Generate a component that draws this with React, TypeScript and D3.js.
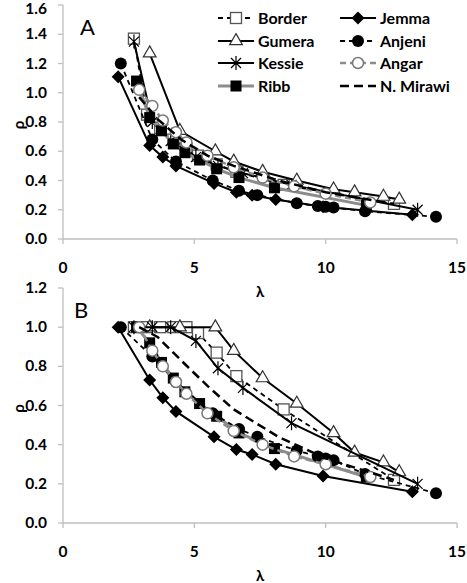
import React from 'react';
import * as d3 from 'd3';

// λ values and ρ for panel A and panel B
const lamBorder = [2.7, 3.2, 3.7, 4.2, 4.7, 5.14, 5.85, 6.6, 8.4, 12.6];
const rhoABorder = [1.37, 0.85, 0.76, 0.68, 0.62, 0.57, 0.51, 0.46, 0.37, 0.24];
const rhoBBorder = [1.0, 1.0, 1.0, 1.0, 1.0, 0.97, 0.87, 0.75, 0.58, 0.22];

const lamGumera = [3.3, 4.45, 5.8, 6.5, 7.6, 8.9, 10.3, 11.1, 12.2, 12.8];
const rhoAGumera = [1.27, 0.74, 0.6, 0.53, 0.46, 0.4, 0.34, 0.32, 0.29, 0.27];
const rhoBGumera = [1.0, 1.0, 1.0, 0.88, 0.74, 0.61, 0.46, 0.36, 0.31, 0.26];

const lamKessie = [2.7, 3.4, 4.1, 5.06, 5.9, 6.85, 8.7, 13.5];
const rhoAKessie = [1.35, 0.8, 0.67, 0.56, 0.5, 0.45, 0.37, 0.2];
const rhoBKessie = [1.0, 1.0, 1.0, 0.93, 0.79, 0.69, 0.51, 0.2];

const lamRibb = [2.8, 3.3, 3.75, 4.2, 4.64, 5.2, 5.85, 6.7, 8.05, 11.55];
const rhoARibb = [1.08, 0.83, 0.74, 0.65, 0.59, 0.54, 0.48, 0.42, 0.35, 0.23];
const rhoBRibb = [1.0, 0.92, 0.82, 0.74, 0.67, 0.61, 0.545, 0.46, 0.38, 0.235];

const lamJemma = [2.1, 3.3, 3.8, 4.3, 5.75, 6.6, 7.2, 8.1, 9.9, 13.3];
const rhoAJemma = [1.11, 0.64, 0.56, 0.5, 0.38, 0.32, 0.3, 0.27, 0.22, 0.165];
const rhoBJemma = [1.0, 0.73, 0.64, 0.57, 0.44, 0.375, 0.35, 0.3, 0.24, 0.16];

const lamAnjeni = [2.2, 3.4, 4.3, 5.7, 6.7, 7.4, 8.9, 9.7, 10.0, 10.3, 11.5, 14.2];
const rhoAAnjeni = [1.2, 0.68, 0.53, 0.4, 0.33, 0.3, 0.245, 0.225, 0.22, 0.215, 0.19, 0.152];
const rhoBAnjeni = [1.0, 0.85, 0.72, 0.56, 0.48, 0.44, 0.37, 0.34, 0.33, 0.32, 0.25, 0.152];

const lamAngar = [2.9, 3.4, 3.8, 4.3, 4.7, 5.5, 6.5, 7.6, 8.8, 10.0, 11.7];
const rhoAAngar = [1.02, 0.91, 0.81, 0.73, 0.66, 0.57, 0.49, 0.42, 0.36, 0.31, 0.25];
const rhoBAngar = [1.0, 0.88, 0.8, 0.72, 0.66, 0.56, 0.47, 0.4, 0.34, 0.3, 0.235];

const lamMirawi = [2.9, 3.6, 4.5, 5.5, 6.5, 8.2, 10.0, 12.6];
const rhoAMirawi = [0.97, 0.82, 0.68, 0.57, 0.5, 0.4, 0.32, 0.24];
const rhoBMirawi = [1.0, 0.95, 0.83, 0.7, 0.58, 0.44, 0.33, 0.22];

const xTicks = [0, 5, 10, 15];
const yTicksA = [0, 0.2, 0.4, 0.6, 0.8, 1.0, 1.2, 1.4, 1.6];
const yTicksB = [0, 0.2, 0.4, 0.6, 0.8, 1.0, 1.2];

const series = [
  { name: 'Border', lam: lamBorder, a: rhoABorder, b: rhoBBorder, stroke: '#000', width: 1.8, dash: '5,4', marker: 'square' },
  { name: 'Gumera', lam: lamGumera, a: rhoAGumera, b: rhoBGumera, stroke: '#000', width: 2, dash: null, marker: 'triangle' },
  { name: 'Kessie', lam: lamKessie, a: rhoAKessie, b: rhoBKessie, stroke: '#000', width: 2, dash: null, marker: 'star' },
  { name: 'Ribb', lam: lamRibb, a: rhoARibb, b: rhoBRibb, stroke: '#8c8c8c', width: 3, dash: null, marker: 'fsquare' },
  { name: 'Jemma', lam: lamJemma, a: rhoAJemma, b: rhoBJemma, stroke: '#000', width: 2, dash: null, marker: 'diamond' },
  { name: 'Anjeni', lam: lamAnjeni, a: rhoAAnjeni, b: rhoBAnjeni, stroke: '#000', width: 1.8, dash: '5,4', marker: 'fcircle' },
  { name: 'Angar', lam: lamAngar, a: rhoAAngar, b: rhoBAngar, stroke: '#8c8c8c', width: 2.5, dash: '6,4', marker: 'ocircle' },
  { name: 'N. Mirawi', lam: lamMirawi, a: rhoAMirawi, b: rhoBMirawi, stroke: '#000', width: 2.5, dash: '9,5', marker: null },
];

const font = 'Lato, "Liberation Sans", sans-serif';

function Marker({ type, x, y }: { type: string | null; x: number; y: number }) {
  if (!type) return null;
  const t = `translate(${x},${y})`;
  if (type === 'square')
    return <rect transform={t} x={-5.5} y={-5.5} width={11} height={11} fill="#fff" stroke="#555" strokeWidth={1.3} />;
  if (type === 'fsquare')
    return <rect transform={t} x={-5.5} y={-5.5} width={11} height={11} fill="#000" />;
  if (type === 'triangle')
    return <path transform={t} d={d3.symbol(d3.symbolTriangle, 70)()!} fill="#fff" stroke="#333" strokeWidth={1.2} />;
  if (type === 'diamond')
    return <path transform={t} d="M0,-6.5L6.5,0L0,6.5L-6.5,0Z" fill="#000" />;
  if (type === 'fcircle') return <circle transform={t} r={6} fill="#000" />;
  if (type === 'ocircle')
    return <circle transform={t} r={5.5} fill="#fff" stroke="#777" strokeWidth={1.5} />;
  if (type === 'star')
    return <path transform={t} d="M-5,-5L5,5M-5,5L5,-5M0,-7L0,7" stroke="#000" strokeWidth={1.2} fill="none" />;
  return null;
}

function Panel({ which, yMax, yTicks, top, bottom, label }: { which: 'a' | 'b'; yMax: number; yTicks: number[]; top: number; bottom: number; label: string }) {
  const x = d3.scaleLinear().domain([0, 15]).range([63, 457]);
  const y = d3.scaleLinear().domain([0, yMax]).range([bottom, top]);
  return (
    <g>
      <line x1={63} x2={457} y1={bottom} y2={bottom} stroke="#bfbfbf" strokeWidth={1.3} />
      <line x1={63} x2={63} y1={top} y2={bottom} stroke="#bfbfbf" strokeWidth={1.3} />
      {xTicks.map(t => (
        <g key={t}>
          <line x1={x(t)} x2={x(t)} y1={bottom} y2={bottom + 5} stroke="#bfbfbf" strokeWidth={1.3} />
          <text x={x(t)} y={bottom + 34} textAnchor="middle" fontFamily={font} fontWeight="bold" fontSize={15.5}>{t}</text>
        </g>
      ))}
      {yTicks.map(t => (
        <g key={t}>
          <line x1={58} x2={63} y1={y(t)} y2={y(t)} stroke="#bfbfbf" strokeWidth={1.3} />
          <text x={47} y={Math.max(y(t) + 5, 14)} textAnchor="end" fontFamily={font} fontWeight="bold" fontSize={15.5}>{d3.format('.1f')(t)}</text>
        </g>
      ))}
      <text x={which === 'a' ? 80 : 74} y={top + 30} fontFamily={font} fontSize={22}>{label}</text>
      <text transform={`translate(24,${(top + bottom) / 2 + 3}) rotate(-90)`} textAnchor="middle" fontFamily={font} fontWeight="bold" fontSize={15}>ρ</text>
      <text x={260} y={bottom + 58} textAnchor="middle" fontFamily={font} fontWeight="bold" fontSize={15}>λ</text>
      {series.map(s => {
        const vals = which === 'a' ? s.a : s.b;
        const path = d3.line<number>()
          .x((d, i) => x(s.lam[i]))
          .y(d => y(d))(vals);
        return (
          <g key={s.name}>
            <path d={path!} fill="none" stroke={s.stroke} strokeWidth={s.width} strokeDasharray={s.dash ?? undefined} />
            {vals.map((v, i) => <Marker key={i} type={s.marker} x={x(s.lam[i])} y={y(v)} />)}
          </g>
        );
      })}
    </g>
  );
}

function Legend() {
  const rows = [18, 41, 63, 86];
  return (
    <g>
      {series.map((s, i) => {
        const col = i < 4 ? 0 : 1;
        const yy = rows[i % 4];
        const x0 = col === 0 ? 218 : 340;
        const x1 = col === 0 ? 254 : 376;
        return (
          <g key={s.name}>
            <line x1={x0} x2={x1} y1={yy} y2={yy} stroke={s.stroke} strokeWidth={s.width} strokeDasharray={s.dash ?? undefined} />
            <Marker type={s.marker} x={(x0 + x1) / 2} y={yy} />
            <text x={x1 + 4} y={yy + 5.5} fontFamily={font} fontWeight="bold" fontSize={16}>{s.name}</text>
          </g>
        );
      })}
    </g>
  );
}

export default function App() {
  return (
    <svg width={467} height={583} style={{ position: 'absolute', left: 0, top: 0, background: '#fff' }}>
      <Panel which="a" yMax={1.6} yTicks={yTicksA} top={5} bottom={239} label="A" />
      <Panel which="b" yMax={1.2} yTicks={yTicksB} top={288} bottom={523} label="B" />
      <Legend />
    </svg>
  );
}
